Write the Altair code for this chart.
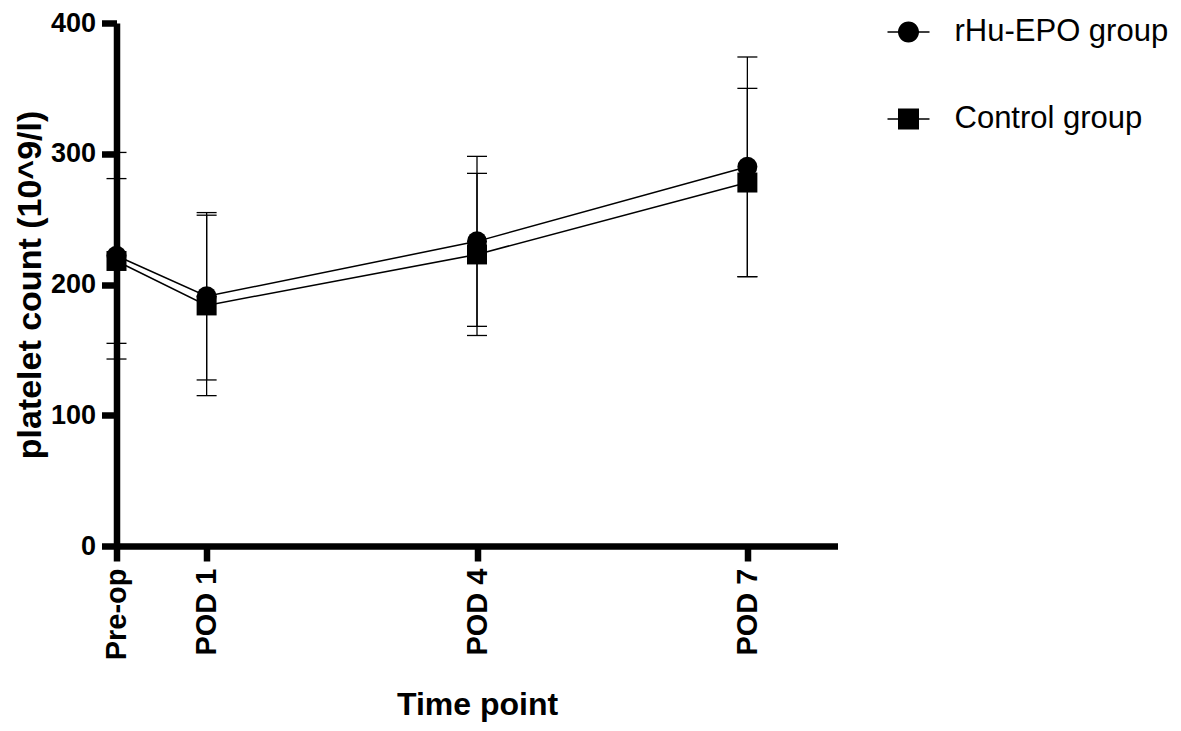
import altair as alt
import pandas as pd

# ---- data ----
DAYS = [0, 1, 4, 7]
TIME_LABELS = ["Pre-op", "POD 1", "POD 4", "POD 7"]
GROUPS = ["rHu-EPO group", "Control group"]
EPO_MEAN = [222, 191, 233, 290]
EPO_SD = [79, 64, 65, 84]
CTRL_MEAN = [218, 184, 223, 278]
CTRL_SD = [63, 69, 62, 72]
Y_TICKS = [0, 100, 200, 300, 400]

rows = []
for g, means, sds in [(GROUPS[0], EPO_MEAN, EPO_SD), (GROUPS[1], CTRL_MEAN, CTRL_SD)]:
    for d, lab, m, s in zip(DAYS, TIME_LABELS, means, sds):
        rows.append({"day": d, "label": lab, "group": g, "mean": m, "lo": m - s, "hi": m + s})
df = pd.DataFrame(rows)

label_expr = " : ".join(
    [f"datum.value == {d} ? '{l}'" for d, l in zip(DAYS, TIME_LABELS)]
) + " : ''"

FONT = "Liberation Sans"

x = alt.X("day:Q", scale=alt.Scale(domain=[0, 8], nice=False),
          axis=alt.Axis(values=DAYS, labelExpr=label_expr, labelAngle=270,
                        title="Time point", titleFontSize=32, titlePadding=30,
                        labelFontSize=29, labelPadding=7))
y_axis = alt.Axis(values=Y_TICKS, title="platelet count (10^9/l)", titleFontSize=34,
                  titlePadding=3, labelFontSize=27, labelPadding=6)
y = alt.Y("mean:Q", scale=alt.Scale(domain=[0, 400], nice=False), axis=y_axis)

base = alt.Chart(df)

lines = base.mark_line(color="black", strokeWidth=1.5).encode(x=x, y=y, detail="group:N")
rules = base.mark_rule(color="black", strokeWidth=1.3).encode(
    x="day:Q", y="lo:Q", y2="hi:Q")
cap_lo = base.mark_tick(color="black", orient="horizontal", size=20, thickness=1.3, opacity=1).encode(
    x="day:Q", y="lo:Q")
cap_hi = base.mark_tick(color="black", orient="horizontal", size=20, thickness=1.3, opacity=1).encode(
    x="day:Q", y="hi:Q")
pts_epo = base.transform_filter(alt.datum.group == GROUPS[0]).mark_point(
    shape="circle", filled=True, size=400, color="black", opacity=1).encode(x="day:Q", y="mean:Q")
pts_ctrl = base.transform_filter(alt.datum.group == GROUPS[1]).mark_point(
    shape="square", filled=True, size=400, color="black", opacity=1).encode(x="day:Q", y="mean:Q")

CIRCLE_SYM = ("M-1,-0.036H1V0.036H-1Z "
              "M0.5,0A0.5,0.5 0 1,1 -0.5,0A0.5,0.5 0 1,1 0.5,0Z")
SQUARE_SYM = ("M-1,-0.036H1V0.036H-1Z "
              "M-0.5,-0.5H0.5V0.5H-0.5Z")

legend_layer = base.mark_point(filled=True, opacity=0, color="black").encode(
    x="day:Q", y="mean:Q",
    shape=alt.Shape("group:N",
                    scale=alt.Scale(domain=GROUPS, range=[CIRCLE_SYM, SQUARE_SYM]),
                    legend=alt.Legend(title=None, orient="none", legendX=771, legendY=-12,
                                      symbolSize=1764, symbolFillColor="black",
                                      symbolStrokeColor="black", symbolStrokeWidth=0,
                                      symbolOpacity=1, labelFont=FONT, labelFontSize=31,
                                      labelColor="black", labelOffset=25, rowPadding=51,
                                      labelLimit=500, padding=0)))

chart = alt.layer(lines, rules, cap_lo, cap_hi, pts_ctrl, pts_epo, legend_layer).properties(
    width=721, height=523,
    background="white",
    autosize=alt.AutoSizeParams(type="none"),
    padding={"left": 108.5, "top": 15, "right": 335, "bottom": 177},
).configure_view(stroke=None).configure_axis(
    grid=False, domainColor="black", domainWidth=6.5, tickColor="black", tickWidth=6.5,
    tickSize=15, labelFont=FONT, labelFontWeight="bold", labelColor="black",
    titleFont=FONT, titleFontWeight="bold", titleColor="black"
)

chart.save("out.html", embed_options={"renderer": "svg", "actions": False})
